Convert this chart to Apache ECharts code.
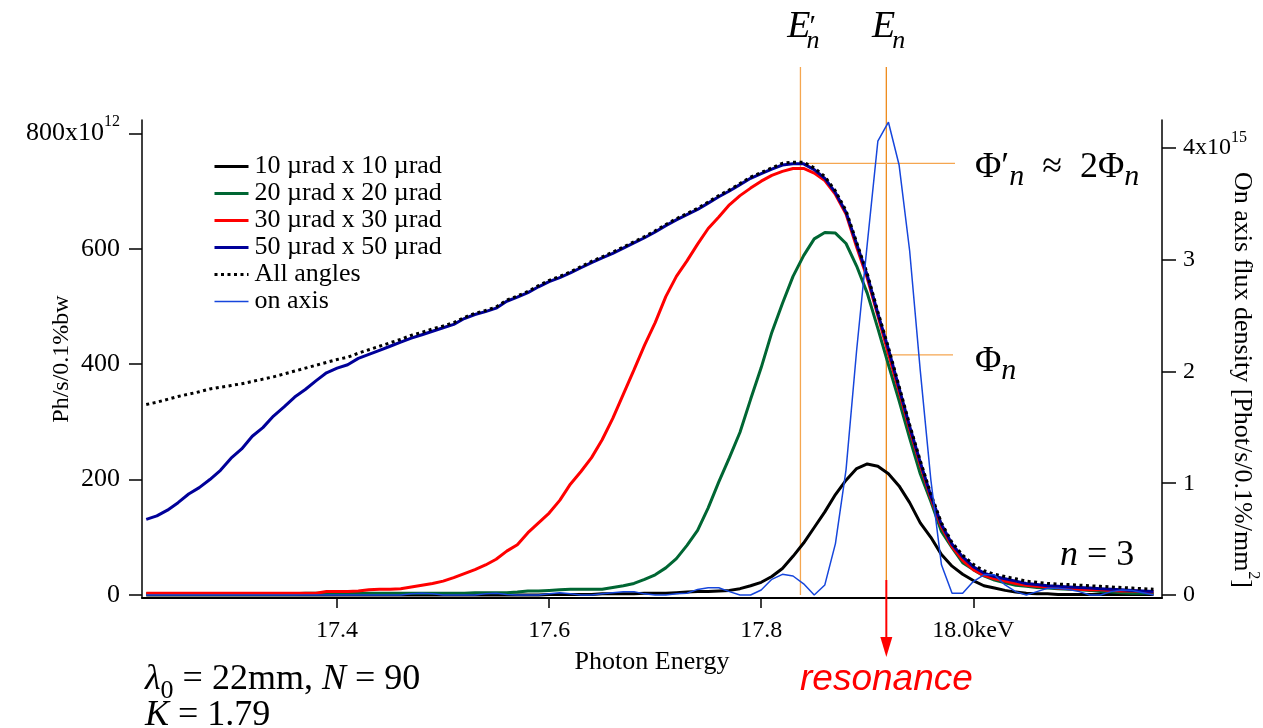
<!DOCTYPE html>
<html><head><meta charset="utf-8">
<script src="https://cdn.jsdelivr.net/npm/echarts@6/dist/echarts.min.js"></script>
<style>html,body{margin:0;padding:0;background:#fff}#c{width:1263px;height:728px}</style>
</head><body><div id="c"></div>
<script>
// ---------------- data ----------------
const energy = [
17.22,17.23,17.24,17.25,17.26,17.27,17.28,17.29,17.30,17.31,
17.32,17.33,17.34,17.35,17.36,17.37,17.38,17.39,17.40,17.41,
17.42,17.43,17.44,17.45,17.46,17.47,17.48,17.49,17.50,17.51,
17.52,17.53,17.54,17.55,17.56,17.57,17.58,17.59,17.60,17.61,
17.62,17.63,17.64,17.65,17.66,17.67,17.68,17.69,17.70,17.71,
17.72,17.73,17.74,17.75,17.76,17.77,17.78,17.79,17.80,17.81,
17.82,17.83,17.84,17.85,17.86,17.87,17.88,17.89,17.90,17.91,
17.92,17.93,17.94,17.95,17.96,17.97,17.98,17.99,18.00,18.01,
18.02,18.03,18.04,18.05,18.06,18.07,18.08,18.09,18.10,18.11,
18.12,18.13,18.14,18.15,18.16,18.17];

const flux10 = [
0,0,0,0,0,0,0,0,0,0,
0,0,0,0,0,0,0,0,0,0,
0,0,0,0,0,0,0,0,0,0,
0,0,0,0,0,0,0,0,1,1,
1,1,1,2,2,2,2,3,3,3,
4,5,6,6,7,8,11,16,22,32,
46,67,90,117,144,174,199,219,227,223,
210,189,160,125,100,70,50,36,25,16,
12,8,5,3,2,2,1,1,1,1,
1,1,1,1,1,1];

const flux20 = [
2,2,2,2,2,2,2,2,2,2,
2,2,2,2,2,3,3,3,3,3,
3,3,3,3,3,3,3,3,3,3,
3,4,4,4,4,5,7,7,8,9,
10,10,10,10,13,16,20,27,35,47,
63,86,112,151,196,238,282,339,394,455,
505,552,588,617,628,627,609,570,523,462,
399,337,272,210,162,110,82,56,44,33,
26,21,17,15,13,12,11,10,9,8,
6,5,4,3,3,3];

const flux30 = [
3,3,3,3,3,3,3,3,3,3,
3,3,3,3,3,3,3,6,6,6,
7,9,10,10,11,14,17,20,24,30,
37,44,52,62,76,87,108,125,142,164,
192,214,238,269,306,348,390,433,472,517,
552,579,608,635,655,676,692,705,717,727,
734,739,739,731,718,694,660,603,549,484,
418,353,287,225,168,118,84,60,44,34,
28,24,20,17,15,14,12,11,10,9,
9,8,7,7,6,5];

const flux50 = [
131,137,147,160,175,186,200,216,237,253,
275,290,310,326,343,356,371,385,393,399,
410,417,424,431,438,445,451,457,463,469,
479,486,491,497,509,516,524,534,543,550,
558,567,576,584,592,601,610,619,629,640,
650,659,668,679,690,700,711,722,730,738,
745,747,747,737,722,697,663,608,554,488,
426,359,292,230,172,122,88,66,49,38,
32,28,24,20,18,16,15,14,13,12,
11,10,9,8,7,6];

const fluxAll = [
330,334,339,344,348,352,357,360,363,366,
370,374,378,383,388,393,398,403,408,412,
419,425,431,437,443,450,455,461,466,472,
481,488,493,499,511,518,526,536,545,552,
560,569,578,586,594,603,612,621,631,642,
652,661,670,681,692,702,713,724,732,740,
748,750,750,740,725,700,666,611,557,491,
429,362,295,233,175,125,91,69,53,42,
36,32,28,24,22,20,19,18,17,16,
15,14,13,12,11,10];

const onAxis = [
0,0,0,0,0,0,0,0,0,0,
0,0,0,0,0,0,0,0,0,0,
0,0,0,0,0,0.01,0.015,0.01,0,0,
0,0,0.01,0.015,0.005,0,0,0,0.01,0.02,
0.01,0,0,0.01,0.02,0.03,0.03,0.01,0,0,
0.01,0.015,0.05,0.065,0.065,0.03,0,0,0.045,0.14,
0.185,0.17,0.10,0,0.09,0.46,1.12,2.19,3.14,4.06,
4.23,3.85,3.08,2.01,1.03,0.27,0.015,0.015,0.12,0.18,
0.18,0.09,0.03,0,0.03,0.06,0.06,0.05,0.03,0,
0,0.03,0.045,0.04,0.02,0];

const seriesNames = ['10 µrad x 10 µrad','20 µrad x 20 µrad','30 µrad x 30 µrad','50 µrad x 50 µrad','All angles','on axis'];
const xTicks = [17.4, 17.6, 17.8, 18.0];
const leftTicks = [0, 200, 400, 600, 800];
const rightTicks = [0, 1, 2, 3, 4];
// annotation reference values
const EnPrime = 17.837, En = 17.918;
const PhiPrime = 748, Phi = 416;

// ---------------- chart ----------------
const serif = 'Liberation Serif';
const colors = ['#000000', '#006633', '#ff0000', '#000099', '#000000', '#1646dc'];
const widths = [3, 3, 3, 3, 3, 1.5];
const dotted = [3, 3.5];
function pairs(ys){ return energy.map((e,i)=>[e, ys[i]]); }
const chart = echarts.init(document.getElementById('c'), null, {renderer:'canvas'});

const supRich = {
  b:{fontFamily:serif,fontSize:26,color:'#000',lineHeight:38,verticalAlign:'middle'},
  s:{fontFamily:serif,fontSize:16,color:'#000',lineHeight:16,verticalAlign:'top'}
};

function lineSeries(idx, data, extra){
  return Object.assign({
    name:seriesNames[idx], type:'line', data:pairs(data), showSymbol:false, symbol:'none',
    lineStyle:{color:colors[idx], width:widths[idx], type: idx===4 ? dotted : 'solid'},
    itemStyle:{color:colors[idx]}, emphasis:{disabled:true}
  }, extra||{});
}

const option = {
  animation:false,
  backgroundColor:'#fff',
  grid:{left:142, right:101, top:120, bottom:130, outerBoundsMode:'none', containLabel:false},
  legend:{
    orient:'vertical', left:213, top:153, padding:0, itemGap:0,
    itemWidth:34, itemHeight:14,
    itemStyle:{opacity:0},
    textStyle:{fontFamily:serif, fontSize:26, color:'#000', lineHeight:27, padding:[0,0,0,1]},
    data:seriesNames.map((n,i)=>({name:n,
      lineStyle:{color:colors[i], width:widths[i], type: i===4 ? dotted : 'solid'}}))
  },
  xAxis:{
    type:'value', min:17.216, max:18.178,
    axisLine:{onZero:false, lineStyle:{color:'#000', width:2}},
    axisTick:{length:10, lineStyle:{color:'#000', width:1.5}, customValues:xTicks},
    axisLabel:{customValues:xTicks, margin:21, fontFamily:serif, fontSize:24, color:'#000',
      formatter:v => Math.abs(v-18)<1e-6 ? '18.0keV' : v.toFixed(1)},
    splitLine:{show:false},
    name:'Photon Energy', nameLocation:'middle', nameGap:51, nameMoveOverlap:false,
    nameTextStyle:{fontFamily:serif, fontSize:26, color:'#000'}
  },
  yAxis:[{
    type:'value', min:-5.2, max:823, position:'left',
    axisLine:{show:true, onZero:false, lineStyle:{color:'#000', width:1.5}},
    axisTick:{show:true, length:13, lineStyle:{color:'#000', width:1.5}, customValues:leftTicks},
    axisLabel:{customValues:leftTicks, margin:22, fontFamily:serif, fontSize:26, color:'#000',
      formatter:v => v===800 ? '{b|800x10}{s|12}' : String(v), rich:supRich},
    splitLine:{show:false},
    name:'Ph/s/0.1%bw', nameLocation:'middle', nameGap:68, nameMoveOverlap:false,
    nameTextStyle:{fontFamily:serif, fontSize:24, color:'#000'}
  },{
    type:'value', min:-0.027, max:4.25, position:'right',
    axisLine:{show:true, onZero:false, lineStyle:{color:'#000', width:1.5}},
    axisTick:{show:true, length:14, lineStyle:{color:'#000', width:1.5}, customValues:rightTicks},
    axisLabel:{customValues:rightTicks, margin:21, fontFamily:serif, fontSize:24, color:'#000',
      formatter:v => v===4 ? '{b|4x10}{s|15}' : String(v),
      rich:{b:{fontFamily:serif,fontSize:24,color:'#000',lineHeight:36,verticalAlign:'middle'},
            s:{fontFamily:serif,fontSize:16,color:'#000',lineHeight:16,verticalAlign:'top'}}},
    splitLine:{show:false}
  }],
  series:[
    lineSeries(0, flux10),
    lineSeries(1, flux20),
    lineSeries(2, flux30),
    lineSeries(3, flux50),
    lineSeries(4, fluxAll),
    lineSeries(5, onAxis, {yAxisIndex:1})
  ]
};
chart.setOption(option);

// ---------------- annotations ----------------
const px = (x,y) => chart.convertToPixel({xAxisIndex:0, yAxisIndex:0}, [x,y]);
const [xEp, yPp] = px(EnPrime, PhiPrime);
const [xE, yP] = px(En, Phi);
const y0 = px(En, 0)[1];
const orange = '#f5a650', orangeDark = '#ee8a1a';
const em = '\u2002';
const mathRich = {
  m:{fontFamily:serif, fontSize:36, color:'#000', lineHeight:48, verticalAlign:'middle'},
  i:{fontFamily:serif, fontStyle:'italic', fontSize:36, color:'#000', lineHeight:48, verticalAlign:'middle'},
  sub:{fontFamily:serif, fontStyle:'italic', fontSize:30, color:'#000', lineHeight:30, verticalAlign:'bottom'},
  sub0:{fontFamily:serif, fontSize:26, color:'#000', lineHeight:26, verticalAlign:'bottom'}
};
function mtext(x, y, text, align){
  return {type:'text', silent:true, z:20, style:{x, y, text, rich:mathRich, align:align||'left', verticalAlign:'middle'}};
}
function plain(x, y, text, size, italic, align){
  return {type:'text', silent:true, z:20, style:{x, y, text, fontFamily:serif, fontStyle:italic?'italic':'normal',
    fontSize:size, fill:'#000', align:align||'left', verticalAlign:'middle'}};
}
chart.setOption({graphic:[
  {type:'line', silent:true, z:1, shape:{x1:xEp, y1:67, x2:xEp, y2:y0}, style:{stroke:orange, lineWidth:1.3}},
  {type:'line', silent:true, z:1, shape:{x1:xE, y1:67, x2:xE, y2:580}, style:{stroke:orangeDark, lineWidth:1.3}},
  {type:'line', silent:true, z:1, shape:{x1:xEp, y1:yPp, x2:955, y2:yPp}, style:{stroke:orange, lineWidth:1.3}},
  {type:'line', silent:true, z:1, shape:{x1:xE, y1:yP, x2:953, y2:yP}, style:{stroke:orange, lineWidth:1.3}},
  {type:'line', silent:true, z:21, shape:{x1:xE, y1:580, x2:xE, y2:642}, style:{stroke:'#ff0000', lineWidth:2}},
  {type:'polygon', silent:true, z:21, shape:{points:[[xE-6,637],[xE+6,637],[xE,657]]}, style:{fill:'#ff0000'}},
  // E'_n and E_n
  plain(xEp+10, 27, 'E', 38, true, 'right'),
  plain(xEp+9, 27, '′', 30, false, 'left'),
  plain(xEp+6, 41, 'n', 26, true, 'left'),
  plain(xE+9, 27, 'E', 38, true, 'right'),
  plain(xE+6, 41, 'n', 26, true, 'left'),
  // Phi labels
  mtext(975, 168, '{m|Φ′}{sub|n}{m|' + em + '≈' + em + '2Φ}{sub|n}'),
  mtext(975, 362, '{m|Φ}{sub|n}'),
  mtext(1060, 556, '{i|n}{m| = 3}'),
  mtext(145, 680, '{i|λ}{sub0|0}{m| = 22mm, }{i|N}{m| = 90}'),
  mtext(145, 716, '{i|K}{m| = 1.79}'),
  {type:'text', silent:true, z:20, style:{x:800, y:680, text:'resonance', fontFamily:'Liberation Sans', fontStyle:'italic', fontSize:37, fill:'#ff0000', align:'left', verticalAlign:'middle'}},
  // right axis title
  {type:'text', silent:true, z:20, x:1242, y:380, rotation:-Math.PI/2,
   style:{x:0, y:0, text:'{t|On axis flux density [Phot/s/0.1%/mm}{s|2}{t|]}', align:'center', verticalAlign:'middle',
     rich:{t:{fontFamily:serif, fontSize:26, color:'#000', lineHeight:38, verticalAlign:'middle'},
           s:{fontFamily:serif, fontSize:16, color:'#000', lineHeight:16, verticalAlign:'top'}}}}
]});
</script></body></html>
